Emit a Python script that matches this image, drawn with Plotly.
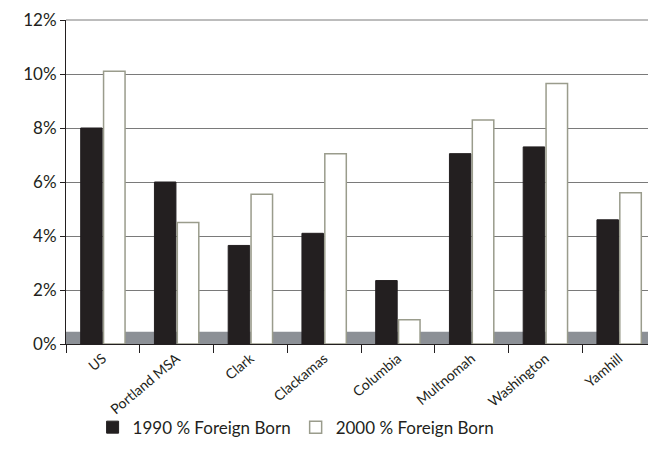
import plotly.graph_objects as go

categories = ["US", "Portland MSA", "Clark", "Clackamas", "Columbia", "Multnomah", "Washington", "Yamhill"]
fb_1990 = [8.0, 6.0, 3.65, 4.1, 2.35, 7.05, 7.3, 4.6]
fb_2000 = [10.1, 4.5, 5.55, 7.05, 0.9, 8.3, 9.65, 5.6]
y_ticks = [0, 2, 4, 6, 8, 10, 12]
y_tick_text = [f"{v}%" for v in y_ticks]

font = "Lato"

fig = go.Figure()
fig.add_trace(go.Bar(x=categories, y=fb_1990, name="1990 % Foreign Born",
                     marker=dict(color="#231f20", line=dict(color="#231f20", width=1))))
fig.add_trace(go.Bar(x=categories, y=fb_2000, name="2000 % Foreign Born",
                     marker=dict(color="#ffffff", line=dict(color="#9a9c8c", width=1.5))))

# grey floor
fig.add_shape(type="rect", xref="paper", yref="y", x0=0, x1=1, y0=0, y1=0.45,
              fillcolor="#8c9096", line=dict(width=0), layer="below")

fig.update_layout(
    width=656, height=466,
    margin=dict(l=58, r=8, t=12, b=130, autoexpand=False),
    paper_bgcolor="white", plot_bgcolor="white",
    barmode="group", bargap=0.38, bargroupgap=0.06,
    font=dict(family=font, size=14, color="#231f20"),
    showlegend=True,
    legend=dict(orientation="h", x=0.39, xanchor="center", y=-0.258, yanchor="middle",
                font=dict(size=17), itemwidth=30, traceorder="normal",
                bgcolor="rgba(0,0,0,0)", tracegroupgap=0),
    xaxis=dict(tickangle=-40, tickson="boundaries", ticks="outside", ticklen=8,
               tickcolor="#231f20", showline=True, linecolor="#231f20", linewidth=1,
               showgrid=False, tickfont=dict(size=14), automargin=False),
    yaxis=dict(range=[0, 12], tickmode="array", tickvals=y_ticks, ticktext=y_tick_text,
               ticks="outside", ticklen=5, automargin=False,
               tickcolor="#231f20", showline=True, linecolor="#231f20", linewidth=1,
               gridcolor="#7a7a7a", gridwidth=1, zeroline=False, tickfont=dict(size=17)),
)
fig.add_shape(type="line", xref="paper", yref="paper", x0=0, x1=1, y0=1, y1=1,
              line=dict(color="#7a7a7a", width=1))
fig.add_shape(type="line", xref="paper", yref="paper", x0=1, x1=1, y0=0, y1=1,
              line=dict(color="#7a7a7a", width=1))

fig.write_html("out.html")
